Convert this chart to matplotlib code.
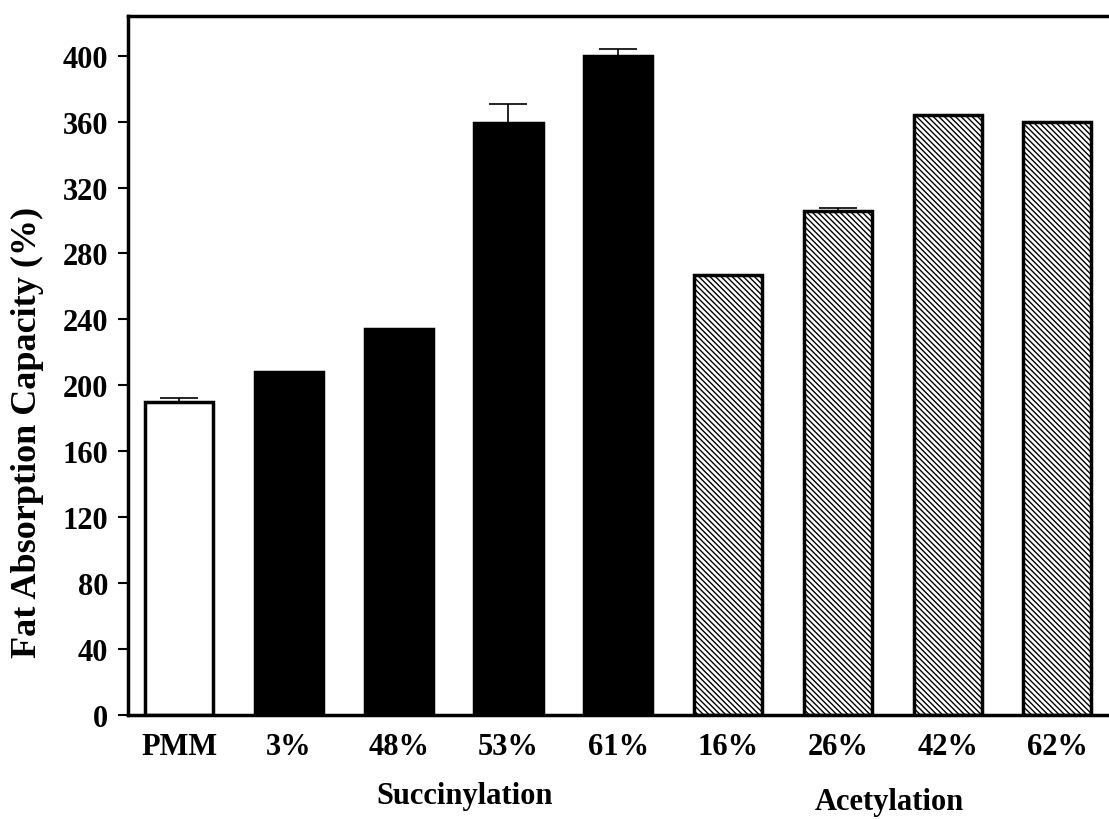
import matplotlib
matplotlib.use("Agg")
import matplotlib.pyplot as plt

matplotlib.rcParams['font.family'] = ['Liberation Serif', 'DejaVu Serif']
matplotlib.rcParams['font.weight'] = 'bold'
matplotlib.rcParams['hatch.linewidth'] = 1.0

# ---------- Data ----------

categories = ["PMM", "3%", "48%", "53%", "61%", "16%", "26%", "42%", "62%"]
fat_absorption = [190, 208, 234, 359, 400, 267, 306, 364, 360]
errors = [2, 0, 0, 12, 4, 0, 1.5, 0, 0]
treatment = ["control", "succ", "succ", "succ", "succ",
             "acet", "acet", "acet", "acet"]

group_names = ["Succinylation", "Acetylation"]
group_members = [["3%", "48%", "53%", "61%"], ["16%", "26%", "42%", "62%"]]

yticks = list(range(0, 401, 40))

STYLE = {
    "control": dict(color="white", hatch=None),
    "succ": dict(color="black", hatch=None),
    "acet": dict(color="white", hatch="\\\\\\\\\\\\"),
}

# ---------- Plot ----------

fig = plt.figure(figsize=(11.09, 8.2), dpi=100)
ax = fig.add_axes([0.115, 0.127, 0.885, 0.852])

x = list(range(len(categories)))
for xi, val, err, kind in zip(x, fat_absorption, errors, treatment):
    st = STYLE[kind]
    ax.bar(xi, val, width=0.62, color=st["color"], edgecolor="black",
           linewidth=2.5, hatch=st["hatch"], zorder=2)
    if err > 0:
        ax.errorbar(xi, val, yerr=[[0], [err]], fmt="none", ecolor="black",
                    elinewidth=1.2, capsize=14, capthick=1.2, zorder=3)

ax.set_xlim(-0.47, 8.47)
ax.set_ylim(0, 424)
ax.set_yticks(yticks)
ax.set_yticklabels([str(t) for t in yticks], fontsize=22, fontweight="bold")
ax.set_xticks(x)
ax.set_xticklabels(categories, fontsize=22, fontweight="bold")

ax.tick_params(axis="y", direction="out", length=7, width=1.5, pad=7)
ax.tick_params(axis="x", length=0, pad=12)

for side in ("left", "bottom", "top"):
    ax.spines[side].set_linewidth(2.5)
ax.spines["right"].set_visible(False)

ax.set_ylabel("Fat Absorption Capacity (%)", fontsize=26, fontweight="bold")
ax.yaxis.set_label_coords(-0.085, 0.405)

# Group labels under the treatment bars
for name, members, dx, yoff in zip(group_names, group_members,
                                   [0.1, -0.03], [-0.116, -0.124]):
    idx = [categories.index(m) for m in members]
    xc = sum(idx) / len(idx) + dx
    ax.text(xc, yoff, name, transform=ax.get_xaxis_transform(),
            ha="center", va="center", fontsize=22, fontweight="bold")

fig.savefig("out.png", dpi=100, facecolor="white")
